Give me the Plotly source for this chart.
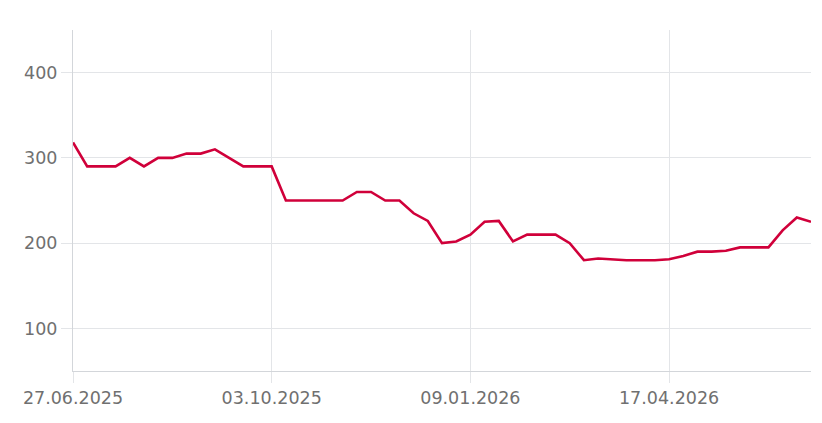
import plotly.graph_objects as go
import pandas as pd

start_date = "2025-06-27"
n_weeks = 53
values = [318, 290, 290, 290, 300, 290, 300, 300, 305, 305,
          310, 300, 290, 290, 290, 250, 250, 250, 250, 250,
          260, 260, 250, 250, 235, 226, 200, 202, 210, 225,
          226, 202, 210, 210, 210, 200, 180, 182, 181, 180,
          180, 180, 181, 185, 190, 190, 191, 195, 195, 195,
          215, 230, 225]
dates = pd.date_range(start_date, periods=n_weeks, freq="7D")

tick_dates = ["2025-06-27", "2025-10-03", "2026-01-09", "2026-04-17"]
tick_labels = ["27.06.2025", "03.10.2025", "09.01.2026", "17.04.2026"]
y_ticks = [100, 200, 300, 400]

fig = go.Figure(go.Scatter(
    x=dates, y=values, mode="lines",
    line=dict(color="#d0003a", width=2.6),
    hoverinfo="skip",
))

grid = "#e3e5e8"
axis = "#d3d6da"
font = dict(family="DejaVu Sans", size=17.5, color="#707070")

fig.update_layout(
    width=822, height=423,
    margin=dict(l=73, r=11, t=30, b=52),
    paper_bgcolor="white", plot_bgcolor="white",
    showlegend=False,
    font=font,
)
fig.update_xaxes(
    range=[dates[0], dates[-1]],
    tickvals=pd.to_datetime(tick_dates), ticktext=tick_labels,
    showgrid=True, gridcolor=grid, gridwidth=1,
    showline=True, linecolor=axis, linewidth=1,
    ticks="outside", ticklen=11, tickcolor=grid,
    tickfont=font, zeroline=False,
)
fig.update_yaxes(
    range=[50, 450],
    tickvals=y_ticks,
    showgrid=True, gridcolor=grid, gridwidth=1,
    showline=True, linecolor=axis, linewidth=1,
    ticks="outside", ticklen=11, tickcolor=grid,
    tickfont=font, zeroline=False,
)

fig.write_html(
    "out.html",
    config={"displayModeBar": False, "staticPlot": True},
    post_script="document.body.style.margin='0';document.documentElement.style.overflow='hidden';",
)
